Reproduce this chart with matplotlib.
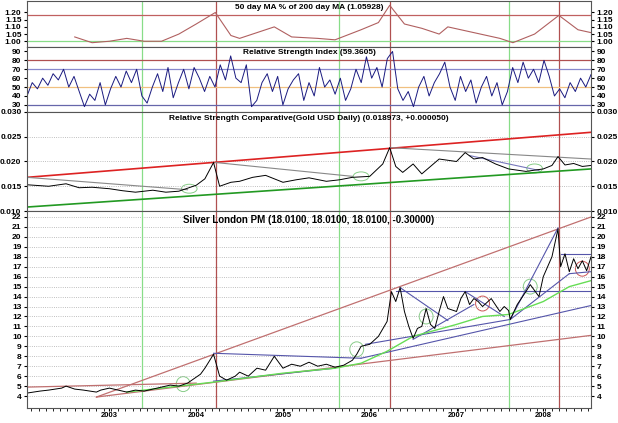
import numpy as np
import matplotlib
matplotlib.use("Agg")
import matplotlib.pyplot as plt
from matplotlib.patches import Ellipse

plt.rcParams['font.family'] = ['Liberation Sans', 'DejaVu Sans']
plt.rcParams['font.size'] = 6
plt.rcParams['font.weight'] = 'bold'

XMIN, XMAX = 2002.05, 2008.55
years = [2003, 2004, 2005, 2006, 2007, 2008]
green_v = [2003.38, 2005.64, 2007.6]
red_v = [2004.23, 2006.23, 2008.18]

ma_t = [2002.6, 2002.8, 2003.0, 2003.2, 2003.4, 2003.6, 2003.8, 2004.0, 2004.22, 2004.4, 2004.5, 2004.7, 2004.9,
        2005.1, 2005.4, 2005.6, 2005.9, 2006.1, 2006.23, 2006.4, 2006.6, 2006.8, 2006.9, 2007.2, 2007.5, 2007.65,
        2007.9, 2008.18, 2008.4, 2008.55]
ma_v = [1.03, 0.99, 1.00, 1.02, 1.00, 1.00, 1.05, 1.12, 1.20, 1.04, 1.02, 1.06, 1.10,
        1.03, 1.02, 1.01, 1.08, 1.13, 1.25, 1.12, 1.09, 1.05, 1.10, 1.06, 1.02, 0.99,
        1.05, 1.18, 1.08, 1.06]

rsi_v = [40, 55, 48, 60, 52, 65, 58, 70, 50, 62, 45, 28, 42, 35, 55, 30, 48, 62, 50, 68, 55, 70, 40, 32, 50, 65, 45,
         72, 38, 55, 70, 48, 72, 60, 45, 62, 50, 75, 58, 85, 60, 55, 75, 28, 35, 55, 65, 45, 62, 30, 48, 58, 65,
         35, 55, 40, 72, 50, 58, 42, 60, 35, 48, 70, 55, 84, 60, 72, 50, 82, 90, 48, 35, 45, 28, 50, 62, 40, 55,
         65, 78, 50, 35, 62, 45, 58, 32, 50, 62, 40, 55, 30, 45, 72, 55, 78, 60, 70, 55, 80, 62, 40, 48, 38, 55,
         45, 60, 50, 64]
rsi_t = np.linspace(XMIN, XMAX, len(rsi_v))

rsc_t = [2002.05, 2002.3, 2002.5, 2002.65, 2002.8, 2003.0, 2003.15, 2003.3, 2003.5, 2003.65, 2003.8, 2004.0, 2004.1,
         2004.2, 2004.27, 2004.4, 2004.5, 2004.65, 2004.8, 2005.0, 2005.15, 2005.3, 2005.5, 2005.65, 2005.8, 2006.0,
         2006.15, 2006.23, 2006.3, 2006.38, 2006.5, 2006.6, 2006.7, 2006.8, 2007.0, 2007.1, 2007.2, 2007.3, 2007.45,
         2007.6, 2007.8, 2008.0, 2008.1, 2008.17, 2008.25, 2008.35, 2008.45, 2008.55]
rsc_v = [0.0153, 0.0150, 0.0155, 0.0147, 0.0148, 0.0145, 0.0141, 0.0138, 0.0142, 0.0138, 0.0140, 0.0152, 0.0165,
         0.0198, 0.0150, 0.0158, 0.0160, 0.0168, 0.0172, 0.0158, 0.0163, 0.0167, 0.0160, 0.0163, 0.0168, 0.0170,
         0.0195, 0.0228, 0.0190, 0.0178, 0.0195, 0.0175, 0.0190, 0.0205, 0.0200, 0.0218, 0.0205, 0.0208, 0.0195,
         0.0185, 0.0180, 0.0185, 0.0192, 0.0210, 0.0193, 0.0196, 0.0190, 0.0192]

ag_t = [2002.05, 2002.2, 2002.3, 2002.45, 2002.5, 2002.6, 2002.7, 2002.85, 2002.9, 2003.0, 2003.1, 2003.2, 2003.3,
        2003.4, 2003.5, 2003.6, 2003.7, 2003.8, 2003.9, 2003.95, 2004.05, 2004.1, 2004.2, 2004.27, 2004.35, 2004.45,
        2004.5, 2004.6, 2004.7, 2004.8, 2004.85, 2004.9, 2005.0, 2005.1, 2005.2, 2005.3, 2005.4, 2005.5, 2005.6,
        2005.7, 2005.8, 2005.85, 2005.9, 2006.0, 2006.1, 2006.2, 2006.25, 2006.3, 2006.35, 2006.4, 2006.45, 2006.5,
        2006.55, 2006.6, 2006.65, 2006.7, 2006.75, 2006.8, 2006.85, 2006.9, 2007.0, 2007.05, 2007.1, 2007.15,
        2007.2, 2007.25, 2007.3, 2007.4, 2007.5, 2007.55, 2007.6, 2007.62, 2007.7, 2007.8, 2007.85, 2007.95, 2008.0,
        2008.05, 2008.1, 2008.17, 2008.2, 2008.25, 2008.3, 2008.35, 2008.4, 2008.45, 2008.5, 2008.55]
ag_v = [4.3, 4.5, 4.6, 4.8, 5.0, 4.7, 4.6, 4.4, 4.6, 4.8, 4.6, 4.4, 4.6, 4.5, 4.7, 4.9, 5.1, 5.0, 5.3, 5.6, 6.2, 6.8,
        8.2, 6.0, 5.6, 6.0, 6.4, 6.0, 6.8, 6.6, 7.3, 8.0, 6.8, 7.2, 7.0, 7.4, 7.0, 7.2, 6.9, 7.1, 7.6, 8.2, 9.0, 9.2,
        10.0, 11.5, 14.5, 13.5, 14.9, 12.5, 11.0, 9.8, 10.8, 11.0, 12.8, 11.2, 10.8, 12.5, 14.0, 12.8, 12.5, 13.8,
        14.5, 13.2, 13.8, 13.5, 13.0, 13.8, 12.5, 13.0, 12.6, 11.7, 13.2, 14.5, 15.2, 14.0, 16.0, 17.0, 18.0, 20.8,
        17.0, 18.3, 16.5, 17.8, 16.8, 17.6, 16.6, 18.0]

ma2_t = [2003.2, 2004.2, 2005.0, 2005.6, 2005.9, 2006.2, 2006.5, 2007.0, 2007.3, 2007.6, 2008.0, 2008.3, 2008.55]
ma2_v = [4.4, 5.4, 6.3, 6.8, 7.3, 8.5, 10.0, 11.2, 12.0, 12.2, 13.5, 15.0, 15.6]

fig = plt.figure(figsize=(6.18, 4.23), dpi=100)
L, W = 27 / 618, (591 - 27) / 618
def mk(top, bot):
    return fig.add_axes([L, 1 - bot / 423, W, (bot - top) / 423])
ax1 = mk(1, 47)
ax2 = mk(47, 112)
ax3 = mk(112, 211)
ax4 = mk(211, 408)

for ax in (ax1, ax2, ax3, ax4):
    ax.set_xlim(XMIN, XMAX)
    ax.tick_params(axis='y', which='both', left=True, right=True, labelleft=True, labelright=True,
                   length=2, pad=2, labelsize=6)
    ax.tick_params(axis='x', length=2)
    for v in green_v:
        ax.axvline(v, color='#88dd88', lw=0.9)
    for v in red_v:
        ax.axvline(v, color='#b05050', lw=0.9)
    for s in ax.spines.values():
        s.set_color('#555555')
    if ax is not ax4:
        ax.set_xticks([])

# panel 1
ax1.set_ylim(0.96, 1.28)
ax1.set_yticks([1.00, 1.05, 1.10, 1.15, 1.20])
ax1.yaxis.set_major_formatter(matplotlib.ticker.FormatStrFormatter('%.2f'))
ax1.axhline(1.18, color='#c06060', lw=0.9)
ax1.axhline(1.00, color='#88dd88', lw=0.9)
ax1.plot(ma_t, ma_v, color='#b06060', lw=0.8)
ax1.text(0.5, 0.93, '50 day MA % of 200 day MA (1.05928)', transform=ax1.transAxes, ha='center', va='top')

# panel 2
ax2.set_ylim(22, 95)
ax2.set_yticks([30, 40, 50, 60, 70, 80, 90])
ax2.axhline(30, color='#6666aa', lw=0.9)
ax2.axhline(70, color='#8888cc', lw=0.9)
ax2.axhline(80, color='#b05050', lw=0.9)
ax2.axhline(50, color='#f0c080', lw=0.9)
ax2.plot(rsi_t, rsi_v, color='#1a1a80', lw=0.7)
ax2.text(0.5, 0.97, 'Relative Strength Index (59.3605)', transform=ax2.transAxes, ha='center', va='top')

# panel 3
ax3.set_ylim(0.010, 0.030)
ax3.set_yticks([0.010, 0.015, 0.020, 0.025, 0.030])
ax3.yaxis.set_major_formatter(matplotlib.ticker.FormatStrFormatter('%.3f'))
ax3.grid(axis='y', ls=':', color='#aaaaaa', lw=0.6)
ax3.plot([XMIN, XMAX], [0.0168, 0.0259], color='#dd2222', lw=1.2)
ax3.plot([XMIN, XMAX], [0.0108, 0.0185], color='#229922', lw=1.2)
ax3.plot([XMIN, 2003.9], [0.0168, 0.0143], color='#888888', lw=0.8)
ax3.plot([2004.22, 2005.8], [0.0198, 0.0170], color='#888888', lw=0.8)
ax3.plot([2006.23, XMAX], [0.0228, 0.0205], color='#888888', lw=0.8)
ax3.plot([2007.15, 2007.95], [0.0212, 0.0182], color='#7777bb', lw=0.8)
ax3.plot(rsc_t, rsc_v, color='black', lw=0.7)
for cx, cy in [(2003.92, 0.0145), (2005.9, 0.0170), (2007.9, 0.0186)]:
    ax3.add_patch(Ellipse((cx, cy), 0.18, 0.0018, fill=False, ec='#88cc88', lw=0.7))
ax3.text(0.5, 0.97, 'Relative Strength Comparative(Gold USD Daily) (0.018973, +0.000050)',
         transform=ax3.transAxes, ha='center', va='top')

# panel 4
ax4.set_ylim(2.8, 22.6)
ax4.set_yticks(range(4, 23))
ax4.grid(axis='y', ls=':', color='#aaaaaa', lw=0.6)
ax4.set_xticks(years)
ax4.set_xticklabels([str(y) for y in years], fontsize=5.5)
ax4.tick_params(axis='x', which='major', pad=1)
ax4.set_xticks(np.arange(2002.1, 2008.55, 1 / 12), minor=True)
ax4.tick_params(axis='x', which='minor', length=2)
red_lines = [([XMIN, 2004.0], [4.9, 5.3]), ([2002.85, XMAX], [3.9, 22.0]), ([2002.85, XMAX], [3.9, 10.1])]
for xs, ys in red_lines:
    ax4.plot(xs, ys, color='#c07070', lw=0.9)
blue_lines = [([2004.2, 2005.9], [8.3, 7.8]), ([2006.35, 2006.9], [14.9, 11.6]), ([2006.3, XMAX], [14.6, 14.6]),
              ([2007.1, 2007.55], [14.5, 12.0]), ([2006.5, 2007.2], [9.7, 13.2]), ([2005.9, XMAX], [7.8, 13.1]),
              ([2005.95, 2007.62], [9.2, 11.7]), ([2007.62, 2008.17], [11.7, 20.9]), ([2007.62, 2008.3], [11.7, 16.3]),
              ([2008.3, XMAX], [16.3, 16.5]), ([2008.2, XMAX], [18.3, 18.3]), ([2004.2, 2005.6], [5.5, 6.8])]
for xs, ys in blue_lines:
    ax4.plot(xs, ys, color='#5555aa', lw=0.8)
ax4.plot(ma2_t, ma2_v, color='#66dd55', lw=1.0)
ax4.plot(ag_t, ag_v, color='black', lw=0.7)
for cx, cy, c in [(2003.85, 5.2, '#88cc88'), (2005.85, 8.7, '#88cc88'), (2007.85, 15.0, '#88cc88'),
                  (2006.65, 12.0, '#88cc88'), (2007.3, 13.3, '#cc5555'), (2008.45, 16.8, '#cc5555')]:
    ax4.add_patch(Ellipse((cx, cy), 0.16, 1.5, fill=False, ec=c, lw=0.7))
ax4.text(0.5, 0.98, 'Silver London PM (18.0100, 18.0100, 18.0100, -0.30000)', transform=ax4.transAxes,
         ha='center', va='top', fontsize=7)

fig.savefig('out.png', dpi=100)
